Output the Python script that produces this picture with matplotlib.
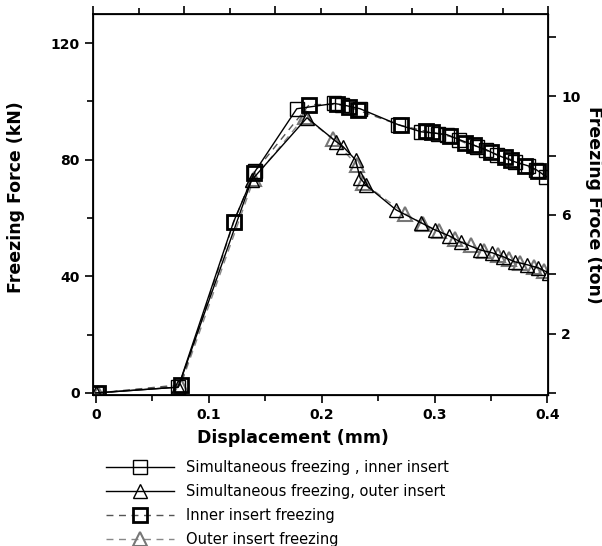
import matplotlib.pyplot as plt
from matplotlib.lines import Line2D
from matplotlib.ticker import MultipleLocator, FixedLocator

plt.rcParams['font.family'] = ['DejaVu Sans']

# simultaneous freezing, inner insert
sim_in_x = [0.0, 0.073, 0.122, 0.141, 0.178, 0.211, 0.218, 0.234, 0.268, 0.288,
            0.303, 0.311, 0.322, 0.338, 0.346, 0.355, 0.371, 0.383, 0.390, 0.399]
sim_in_y = [0.0, 2.0, 58.7, 76.0, 97.5, 99.3, 98.9, 97.5, 92.0, 89.6,
            89.0, 88.6, 86.9, 84.5, 83.4, 81.7, 79.3, 77.9, 76.6, 74.2]
# inner insert freezing
in_x = [0.002, 0.075, 0.122, 0.140, 0.189, 0.214, 0.224, 0.232, 0.270, 0.292,
        0.298, 0.314, 0.327, 0.335, 0.350, 0.362, 0.368, 0.380, 0.392]
in_y = [0.0, 2.8, 58.5, 75.5, 98.9, 99.0, 98.2, 97.0, 91.8, 89.8,
        89.4, 88.0, 85.8, 85.0, 82.5, 81.0, 80.0, 78.0, 76.0]

# simultaneous freezing, outer insert
sim_out_x = [0.0, 0.073, 0.138, 0.187, 0.213, 0.219, 0.230, 0.234, 0.239, 0.266,
             0.288, 0.300, 0.313, 0.323, 0.340, 0.351, 0.361, 0.371, 0.382, 0.392, 0.401]
sim_out_y = [0.0, 2.0, 73.0, 94.4, 86.2, 84.5, 80.0, 73.8, 71.4, 62.8,
             58.4, 56.0, 53.9, 51.8, 49.1, 48.1, 46.7, 45.0, 44.0, 42.9, 41.2]
# outer insert freezing
out_x = [0.002, 0.075, 0.140, 0.185, 0.210, 0.231, 0.237, 0.274, 0.290, 0.304,
         0.318, 0.332, 0.344, 0.356, 0.366, 0.376, 0.388, 0.397]
out_y = [0.0, 2.5, 73.5, 94.8, 87.0, 78.3, 72.0, 61.5, 58.0, 55.4,
         52.8, 50.8, 48.6, 47.2, 45.8, 44.6, 43.2, 42.0]

fig = plt.figure(figsize=(6.02, 5.46), dpi=100)
ax = fig.add_axes([93 / 602, 1 - 395 / 546, 455 / 602, 381 / 546])

ax.plot(out_x, out_y, ls=(0, (5, 4)), color='#888888', lw=1.0, marker='^',
        ms=10, mfc='none', mec='#777777', mew=1.5)
ax.plot(in_x, in_y, ls=(0, (5, 4)), color='#555555', lw=1.0, marker='s',
        ms=10, mfc='none', mec='black', mew=2.0)
ax.plot(sim_out_x, sim_out_y, ls='-', color='black', lw=1.0, marker='^',
        ms=10, mfc='none', mec='black', mew=1.0)
ax.plot(sim_in_x, sim_in_y, ls='-', color='black', lw=1.0, marker='s',
        ms=10, mfc='none', mec='black', mew=1.0)

ax.set_xlim(-0.0025, 0.4005)
ax.set_ylim(-0.7, 130)
ax.xaxis.set_major_locator(FixedLocator([0, 0.1, 0.2, 0.3, 0.4]))
ax.set_xticklabels(['0', '0.1', '0.2', '0.3', '0.4'])
ax.xaxis.set_minor_locator(MultipleLocator(0.05))
ax.yaxis.set_major_locator(FixedLocator([0, 40, 80, 120]))
ax.yaxis.set_minor_locator(FixedLocator([20, 60, 100]))
ax.tick_params(which='both', direction='out', labelsize=10, width=1.2)
ax.tick_params(which='major', length=6)
ax.tick_params(which='minor', length=4)
for lab in ax.get_xticklabels() + ax.get_yticklabels():
    lab.set_fontweight('bold')
for s in ax.spines.values():
    s.set_linewidth(1.3)

ax.set_xlabel('Displacement (mm)', fontsize=12.5, fontweight='bold')
ax.xaxis.set_label_coords(0.44, -0.09)
ax.set_ylabel('Freezing Force (kN)', fontsize=12.5, fontweight='bold')
ax.yaxis.set_label_coords(-0.15, 0.52)

# right axis in ton
axr = ax.twinx()
axr.set_ylim(-0.07, 12.77)
axr.yaxis.set_major_locator(FixedLocator([2, 6, 10]))
axr.yaxis.set_minor_locator(FixedLocator([0, 4, 8, 12]))
axr.tick_params(which='both', direction='out', labelsize=10, width=1.2)
axr.tick_params(which='major', length=6)
axr.tick_params(which='minor', length=6)
for lab in axr.get_yticklabels():
    lab.set_fontweight('bold')
axr.set_ylabel('Freezing Froce (ton)', fontsize=12.5, fontweight='bold',
               rotation=270, labelpad=16)

# top axis ticks only
axt = ax.twiny()
axt.set_xlim(0, 10)
axt.xaxis.set_major_locator(MultipleLocator(2))
axt.xaxis.set_minor_locator(MultipleLocator(1))
axt.tick_params(which='both', direction='out', labeltop=False, width=1.2)
axt.tick_params(which='major', length=6)
axt.tick_params(which='minor', length=4)

handles = [
    Line2D([], [], ls='-', color='black', lw=1.0, marker='s', ms=10,
           mfc='none', mec='black', mew=1.0),
    Line2D([], [], ls='-', color='black', lw=1.0, marker='^', ms=10,
           mfc='none', mec='black', mew=1.0),
    Line2D([], [], ls=(0, (5, 4)), color='#555555', lw=1.0, marker='s', ms=10,
           mfc='none', mec='black', mew=2.0),
    Line2D([], [], ls=(0, (5, 4)), color='#888888', lw=1.0, marker='^', ms=10,
           mfc='none', mec='#777777', mew=1.5),
]
labels = ['Simultaneous freezing , inner insert',
          'Simultaneous freezing, outer insert',
          'Inner insert freezing',
          'Outer insert freezing']
fig.legend(handles, labels, loc='upper left', bbox_to_anchor=(100 / 602, 1 - 454 / 546),
           frameon=False, fontsize=10.5, handlelength=4.7, labelspacing=0.62,
           handletextpad=0.8, borderaxespad=0)

fig.savefig('out.png', dpi=100)
